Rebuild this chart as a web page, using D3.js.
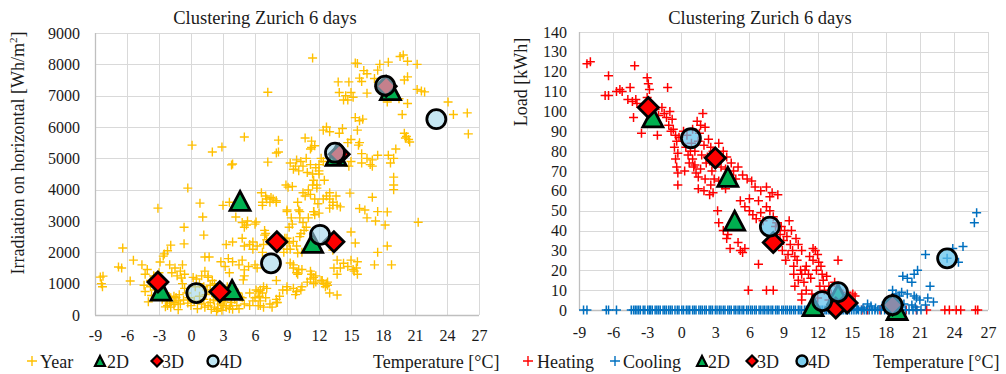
<!DOCTYPE html>
<html><head><meta charset="utf-8">
<script src="https://cdn.jsdelivr.net/npm/d3@7"></script>
<style>
html,body{margin:0;padding:0;background:#fff;}
svg{display:block;}
text{font-family:"Liberation Serif","Times New Roman","DejaVu Serif",serif;fill:#1a1a1a;}
</style></head>
<body>
<svg id="chart" width="1006" height="374"></svg>
<script>
// ---------------- DATA ----------------
const chartTitle = "Clustering Zurich 6 days";
const xTicks = [-9,-6,-3,0,3,6,9,12,15,18,21,24,27];
const leftYTicks = [0,1000,2000,3000,4000,5000,6000,7000,8000,9000];
const rightYTicks = [0,10,20,30,40,50,60,70,80,90,100,110,120,130,140];

// Left chart: [temperature °C, irradiation Wh/m2]
const yearPoints = [
[-8.5,1210],[-8.3,900],[-8.4,1000],[-8.25,1240],[-6.4,2140],[-6.8,1530],[-6.5,1500],[-5.4,1750],[-5.7,1085],
[-4.6,1600],[-4.3,1300],[-4.1,1450],[-4.0,420],[-3.7,620],[-4.3,750],[-3.8,900],[-3.1,3410],[-2.5,1950],
[-2.2,2050],[-1.9,2230],[-2.6,1880],[-2.9,1690],[-2.3,450],[-2.0,380],[-2.2,300],[-0.65,2800],[-0.65,2270],
[-0.3,4050],[-1.5,1500],[-1.0,1400],[-0.8,1600],[-0.9,1180],[-0.6,1300],[-1.3,1250],[-1.5,400],[-1.6,330],
[-1.2,450],[-1.0,350],[-0.8,1000],[-0.6,850],[-1.8,1350],[-2.0,1600],[-3.5,1250],[-3.0,1350],[-3.2,1200],
[-3.8,1100],[-2.7,1000],[-2.4,700],[-1.9,550],[-1.6,600],[-0.4,700],[-0.2,550],[-2.7,500],[-2.4,260],
[-1.2,170],[-1.4,560],[-3.4,800],[-4.4,950],[-1.1,650],[-0.7,480],[-0.3,380],[-1.9,250],
[0.2,1200],[0.5,1150],[1.0,1250],[1.6,1200],[0.8,1000],[1.2,900],[1.5,800],[2.0,700],[2.3,600],[2.5,450],
[2.8,350],[3.0,300],[3.3,250],[3.6,200],[2.2,250],[1.8,400],[1.2,500],[0.8,600],[0.3,450],[1.0,350],
[2.6,800],[3.2,550],[3.8,400],[4.3,300],[4.5,200],[3.5,650],[4.1,500],[4.8,550],[5.0,350],[1.9,180],
[2.4,120],[0.0,300],[0.6,200],[1.4,650],[2.9,150],[3.9,180],[1.6,300],[2.1,480],[2.7,560],[3.1,420],
[1.3,250],[0.4,900],[1.8,950],[2.2,1000],[3.4,900],[4.4,700],[2.5,200],[3.7,300],
[0.84,3570],[1.1,3130],[1.2,2550],[1.3,1850],[1.7,1850],[1.3,1400],[1.6,1250],[2.0,1100],[3.0,3500],
[3.6,3600],[3.3,2250],[2.8,1700],[3.2,1550],[3.6,1350],[3.9,2330],[4.2,3130],[5.0,1440],[5.0,1250],
[4.9,1120],[5.2,2870],[5.3,3000],[6.1,2970],[5.8,2330],[6.2,2200],[6.7,2000],[6.0,1600],[6.2,1500],
[6.7,3600],[7.0,3800],[7.5,3750],[8.0,3650],[6.9,2700],[6.9,2550],[6.5,800],[6.7,700],[6.3,750],
[6.0,550],[6.5,450],[6.3,300],[6.8,250],[8.0,500],[8.1,400],[9.1,4080],[9.0,3300],[9.4,3100],[9.5,2900],
[9.2,2800],[9.0,2450],[9.6,2350],[9.3,2100],[10.0,1980],[9.6,1600],[10.1,1450],[10.0,1300],[8.0,1100],
[9.0,800],[9.8,650],[10.3,800],[10.0,3600],[10.1,3350],[10.2,3100],[11.0,3990],[11.4,4150],[11.8,4050],
[11.5,3300],[11.6,3200],[11.0,3100],[11.3,1300],[11.5,1000],[11.7,1050],
[7.2,7110],[5.0,5680],[8.2,5580],[8.2,5200],[8.0,5170],[7.2,4880],[3.8,4790],[10.7,5650],[11.3,5550],
[11.6,5400],[11.2,5300],[12.7,6000],[13.0,5850],[12.4,5900],[14.2,5950],[13.9,5800],[13.8,7440],[14.8,7440],
[14.5,7000],[14.7,6860],[15.0,7100],[15.4,8040],[9.3,4850],[10.3,4900],[9.8,4750],[10.5,4750],[10.8,5000],
[11.2,4800],[11.4,4500],[11.5,4300],[12.0,4500],[12.4,4900],[8.9,4150],[9.5,4100],[6.6,3900],[7.1,3700],
[7.7,3700],[7.4,3600],[6.7,3500],[8.0,3600],[10.5,3900],[10.7,3800],[11.2,3850],[11.6,3700],[11.9,3550],
[12.4,3700],[13.0,3700],[13.6,3800],[14.0,3450],[13.3,3500],[13.0,3900],[9.0,3350],[10.2,3300],[11.5,3300],
[12.0,3250],[10.5,2950],[10.8,2800],[10.6,2700],[10.3,2600],[4.8,2950],[6.0,2900],[5.0,2800],[4.8,2450],
[5.5,2250],[5.8,2100],[5.0,2200],[7.0,2600],[7.1,2400],[6.8,2250],[8.8,2450],[9.2,2300],[9.0,2100],
[8.7,2000],[9.9,2200],[10.2,2500],[10.4,2000],[3.5,1800],[3.9,1700],[4.5,1600],[5.4,1550],[4.8,1750],
[9.3,1660],[9.6,1500],[9.9,1350],[10.4,1450],[11.2,1400],[11.5,1200],[12.3,1100],[12.8,1050],[13.7,1750],
[14.3,1650],[14.7,1550],[15.2,1450],[13.4,1500],[13.7,1300],[14.0,1500],[3.7,850],[4.0,650],[4.6,580],
[5.5,700],[6.1,800],[6.8,900],[7.1,850],[6.4,600],[5.8,450],[5.5,300],[8.3,600],[8.6,800],[9.0,900],
[9.6,850],[9.9,750],[10.4,900],[10.9,1050],[11.2,1150],[11.7,1250],[12.2,1100],[12.7,1000],[13.0,700],
[13.7,640],[6.5,300],[7.4,350],[8.0,400],[7.0,550],[7.6,250],[9.6,4650],[10.1,4600],[10.9,4550],[11.7,4700],
[12.2,5000],[9.9,4950],
[15.6,8030],[15.8,7560],[16.2,7800],[16.5,7700],[17.5,7815],[17.7,8000],[18.5,8070],[19.6,8250],[19.9,8300],
[20.3,8100],[21.2,8000],[20.0,7500],[20.3,7600],[21.2,7200],[21.6,7150],[21.9,7120],[18.4,6800],[18.8,7100],
[19.5,6900],[20.3,6750],[19.8,6400],[16.5,7080],[14.3,6860],[15.4,6300],[15.8,6200],[16.1,6250],[24.1,6800],
[24.6,6400],[25.9,6450],[26.0,5780],[20.0,5800],[20.2,5700],[20.4,5600],[20.5,5520],[20.1,5650],[15.6,5900],
[15.8,5500],[15.7,5420],[16.0,5150],[16.5,5000],[17.0,4950],[17.5,5100],[16.8,4800],[18.5,5100],[19.0,5000],
[19.2,5300],[18.7,4850],[19.0,4400],[19.0,4150],[19.0,4000],[17.0,3760],[15.8,3400],[16.3,3350],[17.5,3300],
[18.4,3290],[18.2,2870],[17.3,3000],[16.5,3100],[21.3,2960],[18.4,2200],[17.5,2000],[17.2,1600],[18.8,1600],
[15.4,2300],[15.0,2650],[15.6,1700],[15.5,1500],[15.6,1300],[15.3,1400],[15.0,1750],[14.9,3890],[12.7,3800],
[13.3,3600],[13.0,3410],[13.7,3500],[13.3,2070],[12.4,1000],[12.6,900],[12.8,950],[17.0,4750],[16.0,4850],
[15.0,4900],[14.8,4750],[15.0,5600],[14.7,5500],[11.4,8200],[2.0,5200],[2.9,5360],[0.1,5420],[3.9,4820],
[12.0,4600],[12.5,4300],[11.8,4150],[11.3,5350],[12.0,4800],[17.2,7550],[16.0,7450],[15.2,6950],[13.9,7100]
];
const left2D = [[-2.8,780],[3.85,800],[4.6,3640],[11.4,2300],[13.6,5080],[18.7,7180]];
const left3D = [[-3.1,1050],[2.7,740],[8.05,2340],[13.4,2340],[13.9,5130],[18.3,7300]];
const left4D = [[0.5,700],[7.5,1650],[12.1,2560],[13.5,5180],[18.2,7320],[23.0,6250]];

// Right chart: [temperature °C, load kWh]
const heatingPoints = [
[-8.3,124],[-8.0,125],[-6.4,118],[-4.1,123],[-6.7,108],[-6.4,108],[-5.7,110],[-5.4,111],[-5.2,110],[-4.7,106],
[-4.5,112],[-4.3,105],[-4.0,106],[-3.9,104],[-3.0,117],[-2.9,114],[-2.8,111],[-1.2,112],[-4.2,97],[-3.5,89],
[-2.1,88],[-3.0,107],[-2.3,101],[-2.0,98],[-1.7,102],[-1.5,99],[-1.3,97],[-1.0,100],[-0.8,96],[-1.1,93],
[-0.7,91],[-0.5,88],[-0.4,85],[-0.6,82],[-0.3,79],[-0.5,76],[-0.4,72],[-0.3,69],[-0.3,63],[0.3,70],
[0.6,78],[0.8,80],[1.0,76],[1.2,73],[1.3,69],[1.5,67],[1.1,72],[0.9,84],[1.9,99],[1.4,95],[1.7,93],[2.1,92],
[1.5,85],[2.0,83],[2.4,86],[2.6,82],[2.8,80],[3.0,78],[3.3,84],[3.7,80],[2.5,75],[2.7,70],[2.9,66],[2.6,63],
[1.5,61],[2.0,60],[2.5,58],[2.8,59],[3.3,65],[3.6,63],[3.9,61],[4.3,68],[4.6,70],[5.0,72],[5.4,68],[5.8,66],
[6.2,65],[6.5,62],[7.0,60],[7.5,62],[8.0,59],[8.5,58],[4.4,74],[3.2,50],[3.3,44],[3.7,40],[4.0,36],[4.3,31],
[4.1,38],[5.0,34],[5.2,30],[5.4,29],[5.6,31],[5.2,55],[5.6,52],[6.0,50],[6.3,48],[6.6,46],[7.0,49],[7.2,45],
[7.5,52],[7.8,50],[8.1,47],[8.4,44],[6.8,23],[5.9,10],[7.5,10],[8.1,10],[8.3,42],[8.7,38],[9.0,35],[9.1,40],
[9.3,37],[9.6,33],[9.8,30],[10.0,27],[9.4,28],[9.2,25],[9.9,22],[10.2,25],[10.5,20],[10.6,18],[10.3,15],
[10.0,12],[10.6,8],[10.6,5],[10.8,14],[11.0,22],[11.2,18],[11.4,16],[11.6,25],[11.8,30],[12.0,28],[11.9,20],
[12.2,12],[12.5,15],[12.8,17],[12.6,10],[13.0,12],[13.2,8],[13.5,14],[13.8,25],[13.9,10],[14.2,7],[14.6,9],
[14.8,6],[15.1,8],[15.3,7],[12.3,22],[11.0,10],[11.5,8],[12.0,6],[13.0,5],[8.8,42],[9.5,45],[9.7,40],[8.5,33],
[8.9,30],[10.3,33],[10.1,36],[10.6,30],[11.3,27],[11.6,31],[12.1,24],[-0.9,90],[-0.2,87],[0.2,90],[0.5,88],
[1.6,89],[2.3,77],[3.5,72],[4.0,77],[4.8,66],[6.0,56],[6.8,55],[7.8,57],[9.9,18],[10.9,20],[12.4,18],
[0.4,82],[1.2,80],[1.8,78],[2.2,74],[1.7,71],[3.4,76],[3.9,71],[2.1,66],[0.7,74],[1.0,91],
[15.9,0],[16.4,0],[17.5,0],[18.5,0],[19.2,0],[19.8,0],[20.7,0],[21.6,0],[23.2,0],[23.6,0],[24.2,0],[24.6,0],
[25.9,0],[26.1,0]
];
const coolingPoints = [
[26.0,49],[25.8,44],[24.8,32],[23.9,31],[24.4,24],[23.4,26],[21.5,28],[20.8,20],[20.5,18],[20.3,14],[19.9,16],
[19.5,17],[21.9,12],[21.7,6],[18.6,10],[18.9,8],[19.2,7],[19.4,9],[19.9,8],[20.5,7],[20.7,6],[21.0,5],[18.8,6],
[16.4,3],[16.7,2],[17.7,2],[18.3,3],[18.6,1.5],[20.3,2.5],[20.6,1.5],[21.5,2.5],[22.2,4],[16.0,1],[15.5,0.5],
[17.1,1],[19.6,3]
];
const coolingZeroTemps = [
-8.6,-8.3,-6.6,-6.4,-5.7,-4.4,-4.2,-4.05,-3.9,-3.75,-3.6,-3.35,-3.2,-2.95,-2.8,-2.7,-2.55,-2.3,-2.15,-2.0,
-1.85,-1.6,-1.45,-1.3,-1.1,-0.95,-0.8,-0.55,-0.35,-0.2,0.05,0.2,0.45,0.6,0.75,1.0,1.15,1.3,1.55,1.7,1.85,
2.05,2.2,2.45,2.6,2.75,3.0,3.15,3.35,3.5,3.7,3.85,4.1,4.25,4.4,4.65,4.8,5.0,5.15,5.35,5.5,5.75,5.9,6.1,
6.25,6.45,6.6,6.85,7.0,7.2,7.35,7.55,7.7,7.9,8.05,8.3,8.45,8.6,8.85,9.0,9.2,9.35,9.55,9.7,9.9,10.05,10.3,
10.45,10.6,10.85,11.0,11.2,11.4,11.55,11.75,11.9,12.1,12.3,12.45,12.65,12.8,13.0,13.2,13.35,13.55,13.7,
13.9,14.1,14.25,14.45,14.6,14.8,15.0,15.2,15.4,15.6,15.85,16.1,16.3,16.55,16.8,17.05,17.3,17.6,17.9,
18.15,18.45,18.8,19.1,19.4,19.75,20.05,20.4,20.75,21.1
];
const right2D = [[-2.5,97],[4.1,67],[4.7,45],[11.6,2],[13.8,8],[19.0,0]];
const right3D = [[-2.9,102],[3.0,76.5],[8.1,34],[13.6,1],[14.6,3.5],[18.6,2.5]];
const right4D = [[0.85,86.5],[7.8,42],[12.4,4.5],[13.8,9],[18.6,2.5],[23.4,26]];

// ---------------- DRAWING ----------------
const FONT = '"Liberation Serif","Times New Roman","DejaVu Serif",serif';
const svg = d3.select("#chart");
const crossPath = s => `M${-s},0H${s}M0,${-s}V${s}`;
const triPath = (w,h) => `M0,${-h/2}L${w/2},${h/2}L${-w/2},${h/2}Z`;
const diaPath = r => `M0,${-r}L${r},0L0,${r}L${-r},0Z`;

function drawMarkers(g, pts, x, y, kind, opts) {
  const sel = g.append("g").selectAll("path").data(pts).join("path")
    .attr("transform", d => `translate(${x(d[0])},${y(d[1])})`);
  if (kind === "cross") {
    sel.attr("d", crossPath(opts.s)).attr("fill","none").attr("stroke",opts.color).attr("stroke-width",opts.sw);
  } else if (kind === "tri") {
    sel.attr("d", triPath(20,19)).attr("fill","#00B050").attr("stroke","#000").attr("stroke-width",2.8).attr("stroke-linejoin","miter");
  } else if (kind === "dia") {
    sel.attr("d", diaPath(10)).attr("fill","#FF0000").attr("stroke","#000").attr("stroke-width",2.8).attr("stroke-linejoin","miter");
  } else if (kind === "circ") {
    sel.attr("d", d3.arc()({innerRadius:0,outerRadius:9.5,startAngle:0,endAngle:2*Math.PI}))
      .attr("fill",opts.fill).attr("fill-opacity",opts.op).attr("stroke","#000").attr("stroke-width",2.8);
  }
}

function drawFrame(cfg) {
  const x = d3.scaleLinear().domain([-9,27]).range([cfg.x0,cfg.x1]);
  const y = d3.scaleLinear().domain([0,cfg.yMax]).range([cfg.y1,cfg.y0]);
  const g = svg.append("g");
  g.append("g").selectAll("line").data(xTicks).join("line")
    .attr("x1",d=>Math.round(x(d))+0.5).attr("x2",d=>Math.round(x(d))+0.5)
    .attr("y1",cfg.y0).attr("y2",cfg.y1).attr("stroke","#D9D9D9").attr("stroke-width",1);
  g.append("g").selectAll("line").data(cfg.yTicks).join("line")
    .attr("y1",d=>Math.round(y(d))+0.5).attr("y2",d=>Math.round(y(d))+0.5)
    .attr("x1",cfg.x0).attr("x2",cfg.x1).attr("stroke","#D9D9D9").attr("stroke-width",1);
  g.append("line").attr("x1",cfg.x0).attr("x2",cfg.x1).attr("y1",cfg.y1+0.5).attr("y2",cfg.y1+0.5).attr("stroke","#BFBFBF").attr("stroke-width",1.3);
  g.append("line").attr("x1",cfg.x0+0.5).attr("x2",cfg.x0+0.5).attr("y1",cfg.y0).attr("y2",cfg.y1).attr("stroke","#BFBFBF").attr("stroke-width",1.3);
  const ax = g.append("g").attr("transform",`translate(0,${cfg.y1})`)
    .call(d3.axisBottom(x).tickValues(xTicks).tickSize(0).tickPadding(cfg.xPad).tickFormat(d3.format("d")));
  const ay = g.append("g").attr("transform",`translate(${cfg.x0},0)`)
    .call(d3.axisLeft(y).tickValues(cfg.yTicks).tickSize(0).tickPadding(cfg.yPad).tickFormat(d3.format("d")));
  [ax,ay].forEach(a => {
    a.attr("font-family",FONT);
    a.select(".domain").remove();
    a.selectAll("text").attr("font-size",16).attr("font-family",FONT).attr("fill","#1a1a1a");
  });
  ax.selectAll("text").text(d => d < 0 ? "-" + Math.abs(d) : d);
  svg.append("text").attr("x",cfg.titleX).attr("y",24).attr("text-anchor","middle").attr("font-size",18.5).text(chartTitle);
  svg.append("text").attr("transform",`translate(${cfg.yTitleX},${cfg.yTitleY}) rotate(-90)`)
    .attr("text-anchor","middle").attr("font-size",18).html(cfg.yTitle);
  svg.append("text").attr("x",cfg.xTitleX).attr("y",368).attr("font-size",18).text("Temperature [°C]");
  return {g,x,y};
}

function legendItem(x, kind, opts, label) {
  const g = svg.append("g").attr("transform",`translate(${x},361)`);
  if (kind === "cross") g.append("path").attr("d",crossPath(5)).attr("stroke",opts.color).attr("stroke-width",1.4).attr("fill","none");
  if (kind === "tri") g.append("path").attr("d",triPath(10,10)).attr("fill","#00B050").attr("stroke","#000").attr("stroke-width",2.2);
  if (kind === "dia") g.append("path").attr("d",diaPath(5.5)).attr("fill","#FF0000").attr("stroke","#000").attr("stroke-width",2.2);
  if (kind === "circ") g.append("circle").attr("r",5.5).attr("fill",opts.fill).attr("stroke","#000").attr("stroke-width",2.4);
  svg.append("text").attr("x",x+opts.tx).attr("y",368).attr("font-size",18).text(label);
}

// Left chart
const L = drawFrame({x0:95,x1:479,y0:33,y1:315,yMax:9000,yTicks:leftYTicks,xPad:15,yPad:15,
  titleX:265,yTitleX:24,yTitleY:153,xTitleX:373,
  yTitle:'Irradiation on horizontal [Wh/m<tspan dy="-7" font-size="11">2</tspan><tspan dy="7">]</tspan>'});
drawMarkers(L.g, yearPoints, L.x, L.y, "cross", {s:4.5,color:"#FFC000",sw:1.4});
drawMarkers(L.g, left2D, L.x, L.y, "tri");
drawMarkers(L.g, left3D, L.x, L.y, "dia");
drawMarkers(L.g, left4D, L.x, L.y, "circ", {fill:"#9ED6EA",op:0.6});
legendItem(32,"cross",{color:"#FFC000",tx:8},"Year");
legendItem(100,"tri",{tx:7},"2D");
legendItem(157,"dia",{tx:5},"3D");
legendItem(213,"circ",{fill:"#BFE6F3",tx:7},"4D");

// Right chart
const R = drawFrame({x0:579,x1:988,y0:32,y1:310,yMax:140,yTicks:rightYTicks,xPad:17,yPad:12,
  titleX:760,yTitleX:527,yTitleY:82,xTitleX:873,yTitle:"Load [kWh]"});
drawMarkers(R.g, heatingPoints, R.x, R.y, "cross", {s:4.5,color:"#FF0000",sw:1.5});
drawMarkers(R.g, coolingZeroTemps.map(t=>[t,0]).concat(coolingPoints), R.x, R.y, "cross", {s:4.5,color:"#0070C0",sw:1.5});
drawMarkers(R.g, right2D, R.x, R.y, "tri");
drawMarkers(R.g, right3D, R.x, R.y, "dia");
drawMarkers(R.g, right4D, R.x, R.y, "circ", {fill:"#5EC0EC",op:0.72});
legendItem(528,"cross",{color:"#FF0000",tx:9},"Heating");
legendItem(615,"cross",{color:"#0070C0",tx:8},"Cooling");
legendItem(702,"tri",{tx:6},"2D");
legendItem(752,"dia",{tx:5},"3D");
legendItem(802,"circ",{fill:"#7CCDED",tx:6},"4D");
</script>
</body></html>
